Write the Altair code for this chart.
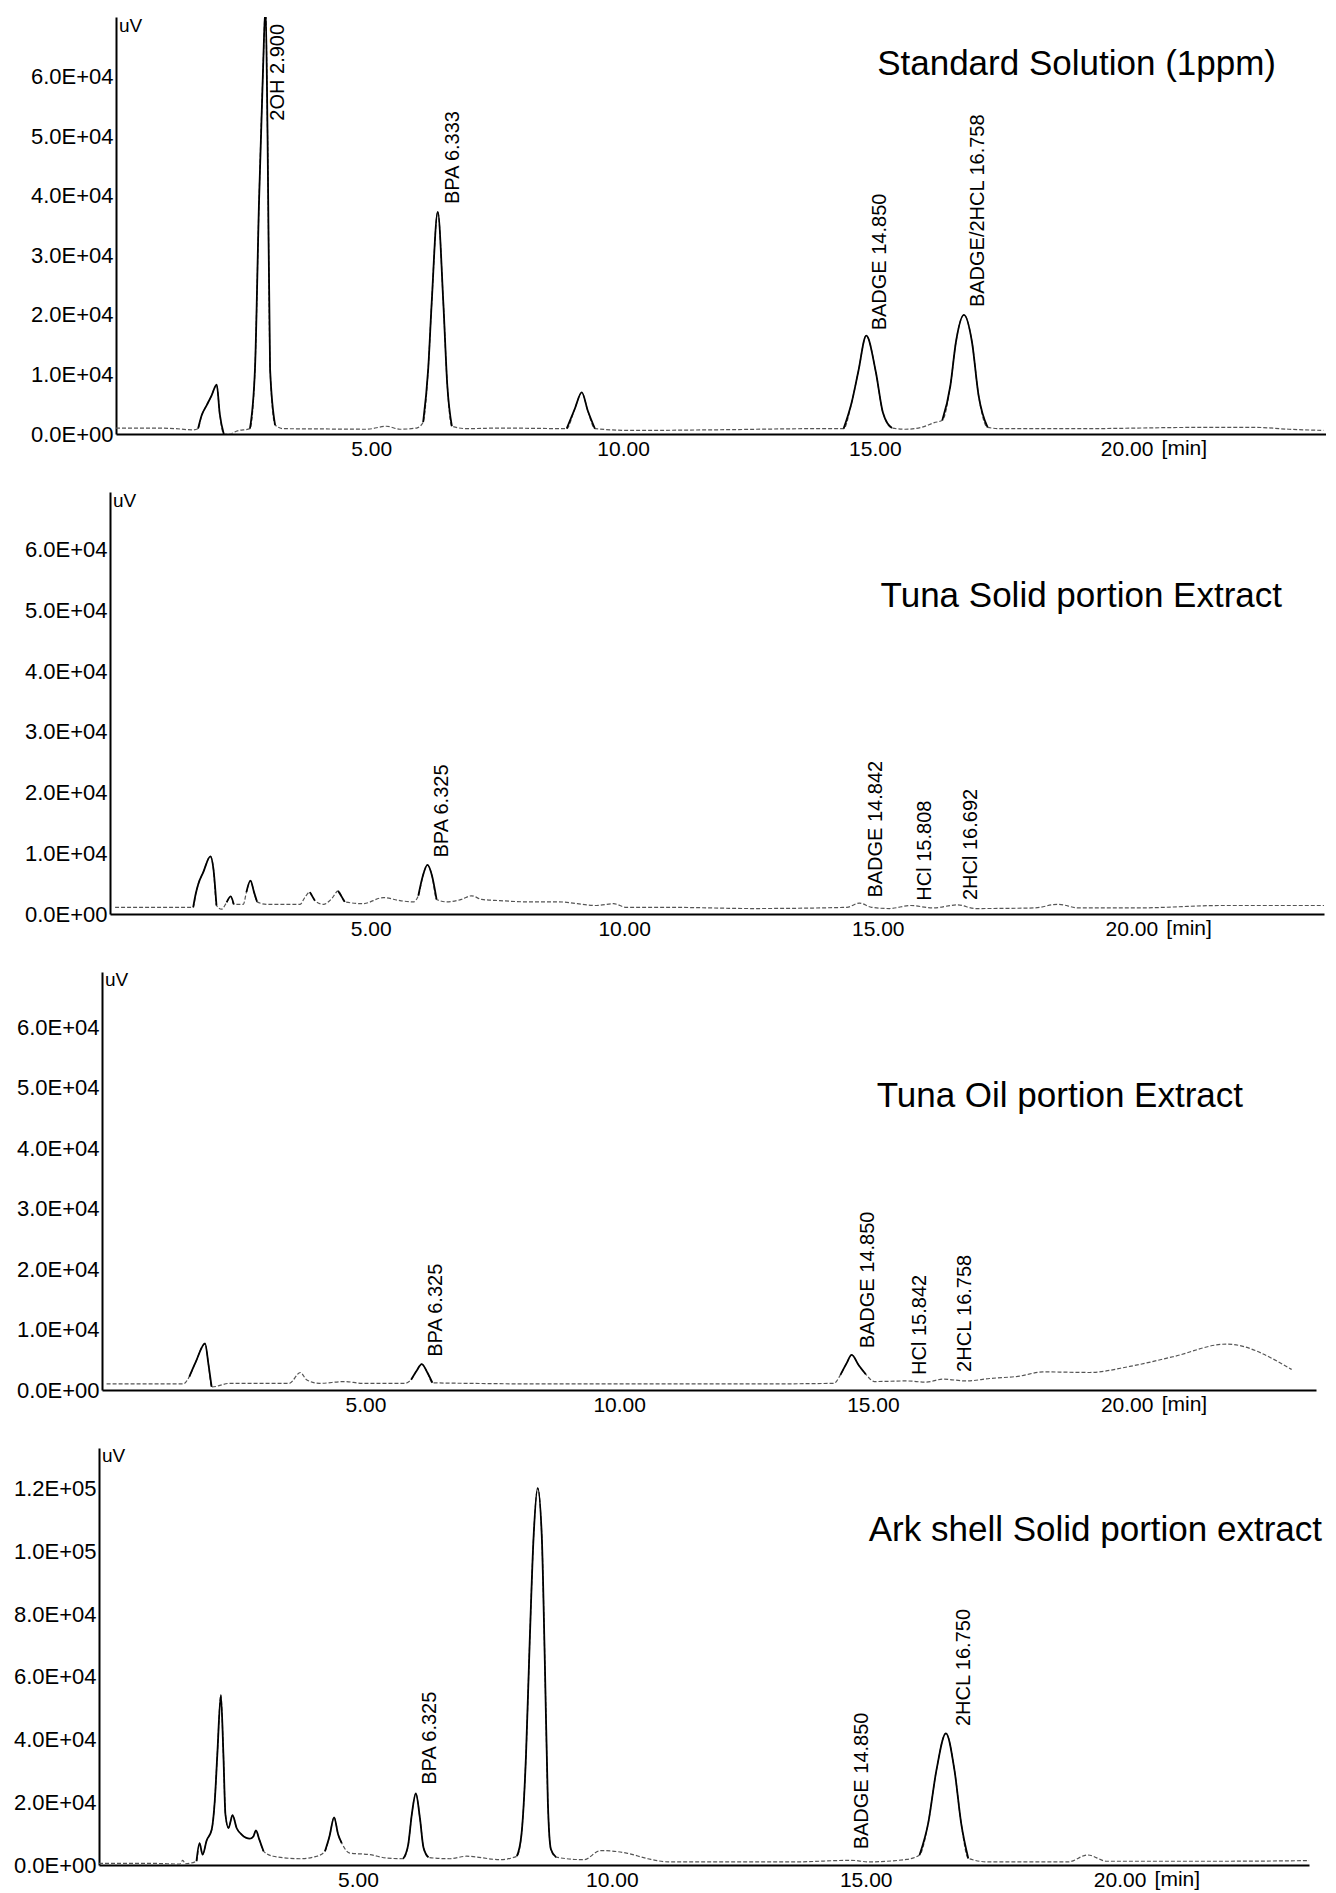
import altair as alt
import pandas as pd

FONT = "Liberation Sans"

# ---------------- axis ticks ----------------
X_TICKS = [5, 10, 15, 20]
X_UNIT = "[min]"
Y_TICKS_A = [0, 10000, 20000, 30000, 40000, 50000, 60000]
Y_LABELS_A = ["0.0E+00", "1.0E+04", "2.0E+04", "3.0E+04", "4.0E+04", "5.0E+04", "6.0E+04"]
Y_TICKS_B = [0, 20000, 40000, 60000, 80000, 100000, 120000]
Y_LABELS_B = ["0.0E+00", "2.0E+04", "4.0E+04", "6.0E+04", "8.0E+04", "1.0E+05", "1.2E+05"]
Y_UNIT = "uV"

TITLES = ["Standard Solution (1ppm)", "Tuna Solid portion Extract",
          "Tuna Oil portion Extract", "Ark shell Solid portion extract"]

# ---------------- Panel 1: Standard Solution ----------------
P1_T = [-0.07, 0.5, 1.0, 1.46, 1.56, 1.63, 1.73, 1.83, 1.93, 1.99, 2.07, 2.19, 2.33, 2.59, 2.69,
        2.77, 2.85, 2.90, 2.94, 2.99, 3.09, 3.25, 4.0, 4.91, 5.30, 5.57, 5.90, 6.03, 6.13, 6.20,
        6.32, 6.43, 6.51, 6.60, 6.89, 7.56, 8.88, 9.04, 9.18, 9.30, 9.44, 10.20, 11.79, 13.91,
        14.38, 14.54, 14.67, 14.83, 15.02, 15.16, 15.34, 15.60, 15.92, 16.18, 16.34, 16.50, 16.61,
        16.77, 16.93, 17.06, 17.24, 17.51, 19.19, 21.32, 22.59, 23.22, 23.91]
P1_V = [1000, 1000, 950, 700, 900, 3100, 4800, 6500, 8300, 3400, 0, 0, 500, 900, 10900,
        38900, 61200, 72000, 50000, 10900, 1500, 900, 850, 800, 1300, 800, 1000, 2000, 10900, 22100,
        37300, 22100, 8100, 1300, 900, 1000, 900, 4200, 7000, 3900, 900, 600, 700, 900,
        900, 5300, 10400, 16500, 10400, 3600, 1000, 800, 1100, 1900, 2300, 8100, 15400,
        20000, 15400, 6500, 1100, 900, 900, 1100, 1100, 800, 600]
P1_SOLID = [(1.5, 2.1), (2.55, 3.15), (5.95, 6.7), (8.85, 9.5), (14.35, 15.4), (16.3, 17.3)]
P1_LAB = ["2OH 2.900", "BPA 6.333", "BADGE 14.850", "BADGE/2HCL 16.758"]
P1_LAB_T = [2.95, 6.43, 14.91, 16.85]
P1_LAB_V = [52600, 38600, 17400, 21300]

# ---------------- Panel 2: Tuna Solid portion ----------------
P2_T = [-0.04, 1.0, 1.50, 1.55, 1.60, 1.70, 1.84, 1.90, 1.96, 2.06, 2.16, 2.24, 2.30, 2.49, 2.55,
        2.63, 2.70, 2.76, 2.95, 3.61, 3.70, 3.80, 3.90, 4.07, 4.23, 4.36, 4.49, 4.85, 5.25, 5.58,
        5.84, 5.94, 6.03, 6.12, 6.21, 6.30, 6.50, 6.79, 6.99, 7.19, 7.55, 8.08, 8.70, 9.45, 9.79,
        10.04, 10.86, 12.54, 14.39, 14.64, 14.88, 15.23, 15.65, 16.08, 16.58, 16.92, 18.09, 18.55,
        18.97, 20.11, 21.79, 23.80]
P2_V = [1100, 1100, 1100, 3300, 4900, 6900, 9500, 7400, 1400, 800, 1900, 2900, 1600, 1600, 3600,
        5500, 3600, 2000, 1600, 1600, 2700, 3600, 2200, 1600, 2500, 3800, 2000, 1700, 2700, 2200,
        2000, 3000, 6300, 8100, 6300, 2400, 2000, 2400, 3000, 2400, 2200, 2000, 2000, 1400, 1700,
        1100, 1100, 900, 1100, 1800, 1100, 900, 1400, 1000, 1500, 900, 1000, 1600,
        1000, 1000, 1400, 1400]
P2_SOLID = [(1.45, 2.0), (2.1, 2.32), (2.5, 2.8), (3.75, 3.92), (4.28, 4.5), (5.92, 6.32)]
P2_LAB = ["BPA 6.325", "BADGE 14.842", "HCl 15.808", "2HCl 16.692"]
P2_LAB_T = [6.21, 14.77, 15.74, 16.65]
P2_LAB_V = [9300, 2700, 2200, 2300]

# ---------------- Panel 3: Tuna Oil portion ----------------
P3_T = [-0.1, 1.0, 1.41, 1.53, 1.66, 1.84, 1.91, 1.97, 2.33, 2.83, 3.50, 3.72, 3.84, 4.09, 4.60,
        4.93, 5.77, 5.90, 6.01, 6.11, 6.22, 6.32, 7.03, 8.71, 10.81, 12.5, 14.23, 14.36, 14.48,
        14.58, 14.72, 14.86, 15.03, 15.66, 16.05, 16.38, 16.84, 17.30, 17.89, 18.35, 19.27, 20.06,
        20.91, 21.96, 23.25]
P3_V = [1000, 1000, 1000, 2200, 4700, 7700, 4100, 500, 1100, 1100, 1100, 2900, 1700, 1100, 1400,
        1100, 1100, 1700, 3200, 4300, 2900, 1200, 1100, 1000, 1000, 1000, 1100, 2500, 4400,
        5800, 4100, 2600, 1400, 1500, 1300, 1800, 1500, 1900, 2300, 3000, 2900, 3900,
        5500, 7600, 3400]
P3_SOLID = [(1.5, 2.0), (5.85, 6.35), (14.3, 15.0)]
P3_LAB = ["BPA 6.325", "BADGE 14.850", "HCl 15.842", "2HCL 16.758"]
P3_LAB_T = [6.19, 14.71, 15.73, 16.61]
P3_LAB_V = [5500, 6900, 2500, 3000]

# ---------------- Panel 4: Ark shell Solid portion ----------------
P4_T = [-0.1, 1.0, 1.49, 1.55, 1.60, 1.82, 1.88, 1.94, 2.02, 2.12, 2.18, 2.23, 2.30, 2.35, 2.39,
        2.45, 2.53, 2.61, 2.71, 2.87, 2.94, 2.99, 3.06, 3.14, 3.33, 3.86, 4.19, 4.35, 4.44, 4.53,
        4.61, 4.68, 4.84, 5.24, 5.57, 5.89, 5.99, 6.06, 6.14, 6.22, 6.29, 6.39, 6.81, 7.14, 7.80,
        8.13, 8.22, 8.31, 8.38, 8.46, 8.54, 8.62, 8.68, 8.74, 8.80, 8.90, 9.45, 9.78, 10.29,
        10.71, 11.11, 13.62, 14.72, 15.05, 15.81, 16.06, 16.23, 16.39, 16.58, 16.75, 16.88, 17.02,
        17.40, 18.99, 19.37, 19.75, 22.02, 23.74]
P4_V = [500, 500, 300, 1500, 400, 1200, 7000, 3300, 7800, 11300, 20400, 35200, 54200, 35200, 16100,
        11800, 15900, 11800, 9700, 8400, 9100, 11000, 8000, 4400, 2800, 2000, 2800, 4400, 9200, 15200,
        9700, 7000, 3800, 3300, 2200, 2000, 6500, 16100, 22800, 15000, 5600, 2400, 2000, 2800, 1700,
        2800, 9700, 35200, 70000, 105000, 120200, 105000, 65000, 20000, 5000, 2500, 1700, 4600, 3800,
        2000, 1000, 1000, 1500, 1000, 1800, 3200, 13300, 30000, 42000, 30000, 13300, 2100,
        1000, 1000, 3200, 1200, 1200, 1400]
P4_SOLID = [(1.8, 3.2), (4.3, 4.72), (5.85, 6.42), (8.1, 8.95), (16.0, 17.05)]
P4_LAB = ["BPA 6.325", "BADGE 14.850", "2HCL 16.750"]
P4_LAB_T = [6.22, 14.72, 16.73]
P4_LAB_V = [25600, 5000, 44300]

Y_EXTENT = 86


def tick_expr(values, labels):
    expr = "''"
    for val, lab in reversed(list(zip(values, labels))):
        expr = f"(datum.value == {val} ? '{lab}' : {expr})"
    return expr


def make_panel(T, V, solid, lab_txt, lab_t, lab_v, title, xdom, ymax, yticks, ylabels,
               W, H, title_x, title_y, uv_y):
    assert len(T) == len(V)
    seg = []
    for t in T:
        s = None
        for k, (a, b) in enumerate(solid):
            if a <= t <= b:
                s = k
        seg.append(s)
    df = pd.DataFrame({"t": T, "v": V, "seg": seg})
    xs = alt.Scale(domain=xdom, nice=False, zero=False)
    ys = alt.Scale(domain=[0, ymax], nice=False, zero=True)
    xaxis = alt.Axis(values=X_TICKS, format=".2f", title=None, grid=False, ticks=False,
                     labelPadding=4, labelFontSize=21, labelFont=FONT, labelColor="black",
                     domainColor="black", domainWidth=2, labelFlush=False)
    yaxis = alt.Axis(values=yticks, labelExpr=tick_expr(yticks, ylabels), title=None, grid=False,
                     ticks=False, labelPadding=3, labelFontSize=22, labelFont=FONT,
                     labelColor="black", domainColor="black", domainWidth=2,
                     minExtent=Y_EXTENT, maxExtent=Y_EXTENT)
    X = alt.X("t:Q", scale=xs, axis=xaxis)
    Y = alt.Y("v:Q", scale=ys, axis=yaxis)

    faint = alt.Chart(df).mark_line(color="#555555", strokeWidth=1.2, strokeDash=[4, 2],
                                    clip=True, interpolate="monotone").encode(x=X, y=Y)
    strong = alt.Chart(df).transform_filter("isValid(datum.seg)").mark_line(
        color="black", strokeWidth=1.8, clip=True, interpolate="monotone"
    ).encode(x=X, y=Y, detail="seg:N")

    labdf = pd.DataFrame({"t": lab_t, "v": lab_v, "txt": lab_txt})
    labels = alt.Chart(labdf).mark_text(angle=270, align="left", baseline="top", fontSize=20,
                                        font=FONT, color="black").encode(x=X, y=Y, text="txt:N")

    tdf = pd.DataFrame({"txt": [title]})
    tlayer = alt.Chart(tdf).mark_text(align="right", baseline="alphabetic", fontSize=35,
                                      font=FONT, color="black").encode(
        x=alt.value(title_x), y=alt.value(title_y), text="txt:N")

    udf = pd.DataFrame({"txt": [Y_UNIT]})
    ulayer = alt.Chart(udf).mark_text(align="left", baseline="middle", fontSize=19,
                                      font=FONT, color="black").encode(
        x=alt.value(3), y=alt.value(uv_y), text="txt:N")

    mdf = pd.DataFrame({"t": [X_TICKS[-1]], "txt": [X_UNIT]})
    mlayer = alt.Chart(mdf).mark_text(align="left", baseline="top", fontSize=21, font=FONT,
                                      color="black", xOffset=35).encode(
        x=X, y=alt.value(H + 4), text="txt:N")

    return alt.layer(faint, strong, labels, tlayer, ulayer, mlayer).properties(width=W, height=H)


def spacer(w):
    return alt.Chart(pd.DataFrame({"a": [0]})).mark_text(text="").encode(
        x=alt.value(0), y=alt.value(0)).properties(width=w, height=1)


p1 = make_panel(P1_T, P1_V, P1_SOLID, P1_LAB, P1_LAB_T, P1_LAB_V, TITLES[0],
                [-0.07, 23.96], 70000, Y_TICKS_A, Y_LABELS_A, 1210, 417, 1160, 58, 9)
p2 = make_panel(P2_T, P2_V, P2_SOLID, P2_LAB, P2_LAB_T, P2_LAB_V, TITLES[1],
                [-0.14, 23.80], 69500, Y_TICKS_A, Y_LABELS_A, 1214, 422, 1172, 115, 9)
p3 = make_panel(P3_T, P3_V, P3_SOLID, P3_LAB, P3_LAB_T, P3_LAB_V, TITLES[2],
                [-0.19, 23.73], 69200, Y_TICKS_A, Y_LABELS_A, 1214, 418, 1141, 135, 8)
p4 = make_panel(P4_T, P4_V, P4_SOLID, P4_LAB, P4_LAB_T, P4_LAB_V, TITLES[3],
                [-0.10, 23.73], 133000, Y_TICKS_B, Y_LABELS_B, 1210, 417, 1223, 93, 8)

rows = [
    alt.hconcat(spacer(20), p1, spacing=0),
    alt.hconcat(spacer(14), p2, spacing=0),
    alt.hconcat(spacer(6), p3, spacing=0),
    alt.hconcat(spacer(3), p4, spacing=0),
]

chart = alt.vconcat(*rows, spacing=27).properties(
    padding={"left": 2, "top": 3, "right": 0, "bottom": 0}
).configure_view(strokeWidth=0)

chart.save("out.html", embed_options={"renderer": "svg", "actions": False})
